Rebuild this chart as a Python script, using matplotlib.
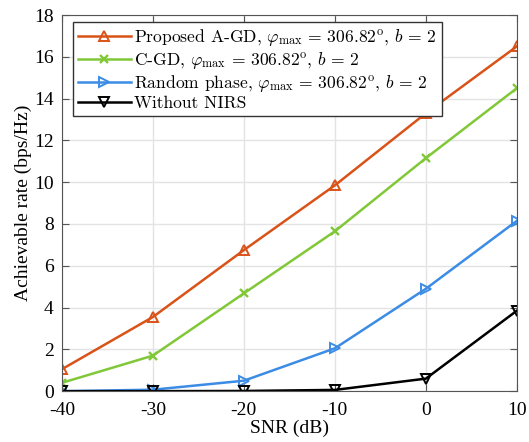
import matplotlib
matplotlib.use("Agg")
import matplotlib.pyplot as plt

plt.rcParams['font.family'] = ['Liberation Serif', 'DejaVu Serif']
plt.rcParams['mathtext.fontset'] = 'cm'

snr = [-40, -30, -20, -10, 0, 10]
rate_agd = [1.05, 3.55, 6.75, 9.85, 13.3, 16.5]
rate_cgd = [0.4, 1.7, 4.68, 7.65, 11.15, 14.5]
rate_rand = [0.0, 0.07, 0.5, 2.05, 4.9, 8.15]
rate_none = [0.0, 0.0, 0.01, 0.06, 0.6, 3.85]

lab_agd = r'Proposed A-GD, $\varphi_{\max}\,=\,306.82^{\mathrm{o}}$, $b\,=\,2$'
lab_cgd = r'C-GD, $\varphi_{\max}\,=\,306.82^{\mathrm{o}}$, $b\,=\,2$'
lab_rand = r'Random phase, $\varphi_{\max}\,=\,306.82^{\mathrm{o}}$, $b\,=\,2$'
lab_none = 'Without NIRS'

xticks = [-40, -30, -20, -10, 0, 10]
yticks = list(range(0, 19, 2))

fig = plt.figure(figsize=(5.29, 4.42), dpi=100)
ax = fig.add_axes([0.117, 0.115, 0.86, 0.851])

ax.plot(snr, rate_agd, '-^', color='#D95319', lw=1.8, ms=7, mfc='none', mew=1.4, label=lab_agd)
ax.plot(snr, rate_cgd, '-x', color='#80C837', lw=1.8, ms=6, mew=1.7, label=lab_cgd)
ax.plot(snr, rate_rand, '->', color='#3C8CE6', lw=1.8, ms=7, mfc='none', mew=1.4, label=lab_rand)
ax.plot(snr, rate_none, '-v', color='black', lw=1.8, ms=7, mfc='none', mew=1.4, label=lab_none)

ax.set_xlim(-40, 10)
ax.set_ylim(0, 18)
ax.set_xticks(xticks)
ax.set_xticklabels([str(t) for t in xticks])
ax.set_yticks(yticks)
ax.grid(True, color='#E3E3E3', lw=1)
ax.set_axisbelow(True)
for s in ax.spines.values():
    s.set_color('#555555')
ax.tick_params(direction='in', top=True, right=True, labelsize=14, color='#555555', length=5)
ax.tick_params(axis='x', pad=8)
ax.tick_params(axis='y', pad=6)
ax.set_xlabel('SNR (dB)', fontsize=14, labelpad=0)
ax.set_ylabel('Achievable rate (bps/Hz)', fontsize=14, labelpad=1)

leg = ax.legend(loc='upper left', bbox_to_anchor=(0.024, 0.981), fancybox=False,
                edgecolor='#333333', framealpha=1, handlelength=3.0, handletextpad=0.2,
                labelspacing=0.1, borderpad=0.3, borderaxespad=0,
                prop={'family': 'cmr10', 'size': 12.6})
leg.get_frame().set_linewidth(1)

fig.savefig('out.png', dpi=100)
